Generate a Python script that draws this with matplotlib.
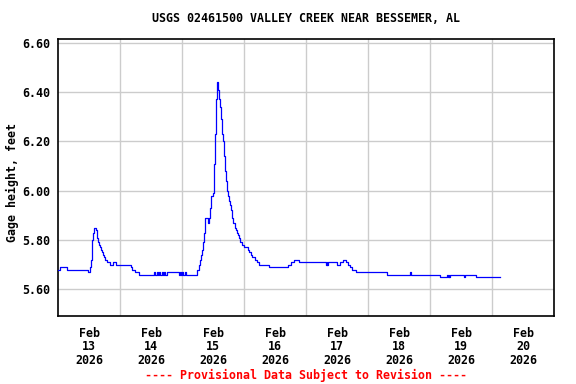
import matplotlib
matplotlib.use("Agg")
import matplotlib.pyplot as plt
import matplotlib.dates as mdates
import numpy as np
from datetime import datetime, timedelta

# gage height, hours after Feb 13 2026 00:00 -> feet
hours = [0.0, 0.5, 3.5, 11.6, 12.3, 12.6, 12.9, 13.2, 13.5, 13.8, 14.6, 14.9,
         15.1, 15.4, 15.7, 16.0, 16.4, 16.8, 17.2, 17.6, 18.1, 18.7, 20.0, 21.1,
         22.2, 28.1, 28.7, 29.6, 31.3, 37.2, 37.5, 38.2, 38.5, 39.0, 39.4, 40.2,
         40.5, 41.0, 41.3, 42.0, 46.9, 47.2, 47.6, 48.0, 48.4, 49.0, 49.4, 53.6,
         54.5, 54.9, 55.2, 55.6, 56.0, 56.3, 56.7, 57.0, 58.1, 58.5, 58.85, 59.2,
         60.0, 60.4, 60.7, 61.0, 61.3, 61.95, 62.2, 62.6, 63.0, 63.4, 63.8, 64.1,
         64.5, 64.9, 65.3, 65.7, 66.1, 66.5, 66.9, 67.2, 67.6, 68.4, 68.8, 69.2,
         69.6, 69.9, 70.3, 71.1, 71.9, 73.6, 74.0, 74.6, 75.2, 76.1, 77.0, 77.8,
         81.7, 89.0, 90.3, 91.4, 93.2, 103.6, 103.9, 104.2, 104.6, 107.8, 109.3,
         109.7, 110.1, 111.4, 112.3, 112.9, 113.6, 115.2, 127.3, 136.4, 136.6,
         147.8, 150.6, 151.0, 151.2, 151.5, 151.7, 157.2, 157.6, 161.7, 171.2]
gage = [5.68, 5.69, 5.68, 5.67, 5.69, 5.72, 5.77, 5.80, 5.83, 5.85, 5.84, 5.83,
        5.81, 5.79, 5.78, 5.77, 5.76, 5.75, 5.74, 5.73, 5.72, 5.71, 5.70, 5.71,
        5.70, 5.69, 5.68, 5.67, 5.66, 5.67, 5.66, 5.67, 5.66, 5.67, 5.66, 5.67,
        5.66, 5.67, 5.66, 5.67, 5.66, 5.67, 5.66, 5.67, 5.66, 5.67, 5.66, 5.68,
        5.70, 5.72, 5.74, 5.76, 5.79, 5.83, 5.87, 5.89, 5.87, 5.89, 5.93, 5.98,
        5.99, 6.11, 6.23, 6.37, 6.44, 6.41, 6.37, 6.34, 6.29, 6.23, 6.20, 6.14,
        6.08, 6.04, 6.00, 5.98, 5.96, 5.94, 5.92, 5.89, 5.87, 5.85, 5.84, 5.83,
        5.82, 5.81, 5.79, 5.78, 5.77, 5.76, 5.75, 5.74, 5.73, 5.72, 5.71, 5.70,
        5.69, 5.70, 5.71, 5.72, 5.71, 5.70, 5.71, 5.70, 5.71, 5.70, 5.71,
        5.71, 5.72, 5.71, 5.70, 5.69, 5.68, 5.67, 5.66, 5.67, 5.66,
        5.65, 5.66, 5.65, 5.66, 5.65, 5.66, 5.65, 5.66, 5.65, 5.65]

ytick_vals = [5.60, 5.80, 6.00, 6.20, 6.40, 6.60]
day_labels = ["Feb\n13\n2026", "Feb\n14\n2026", "Feb\n15\n2026", "Feb\n16\n2026",
              "Feb\n17\n2026", "Feb\n18\n2026", "Feb\n19\n2026", "Feb\n20\n2026"]

start = datetime(2026, 2, 13)
times = [start + timedelta(hours=h) for h in hours]

font = "DejaVu Sans Mono"
plt.rcParams["font.family"] = font
plt.rcParams["font.weight"] = "bold"
plt.rcParams["font.size"] = 8.4

fig = plt.figure(figsize=(5.76, 3.84), dpi=100)
ax = fig.add_axes([58.3 / 576, 1 - 315.7 / 384, (554 - 58.3) / 576, (315.7 - 39) / 384])

ax.plot(times, gage, color="#0000ff", lw=0.9, drawstyle="steps-post", zorder=3)

ax.set_xlim(start, start + timedelta(days=8))
ax.set_ylim(5.493, 6.615)

# gridlines at midnight, labels at noon
ax.set_xticks([start + timedelta(days=d) for d in range(1, 8)], minor=True)
ax.set_xticks([start + timedelta(days=d, hours=12) for d in range(8)])
ax.set_xticklabels(day_labels, linespacing=1.05)
ax.grid(True, which="minor", axis="x", color="#cccccc", lw=1.0)
ax.set_yticks(ytick_vals)
ax.set_yticklabels(["%.2f" % v for v in ytick_vals])
ax.grid(True, axis="y", color="#cccccc", lw=1.0)
ax.tick_params(which="both", length=0)
ax.tick_params(axis="x", pad=8)
ax.tick_params(axis="y", pad=6)
for s in ax.spines.values():
    s.set_linewidth(1.2)

fig.text(12 / 576, 1 - 183 / 384, "Gage height, feet", rotation=90,
         ha="center", va="center")
fig.text(306 / 576, 1 - 19 / 384, "USGS 02461500 VALLEY CREEK NEAR BESSEMER, AL",
         ha="center", va="center")
fig.text(306 / 576, 1 - 375 / 384, "---- Provisional Data Subject to Revision ----",
         ha="center", va="center", color="#ff0000")

fig.savefig("out.png", dpi=100)
